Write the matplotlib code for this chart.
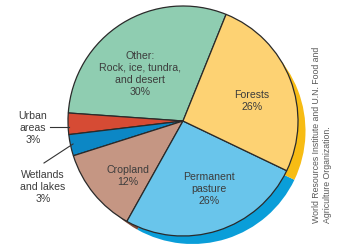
import matplotlib
matplotlib.use("Agg")
import matplotlib.pyplot as plt

# Data
categories = ["Other:\nRock, ice, tundra,\nand desert", "Urban\nareas", "Wetlands\nand lakes",
              "Cropland", "Permanent\npasture", "Forests"]
shares = [30, 3, 3, 12, 26, 26]
colors = ["#8FCDB1", "#D64B34", "#0C87C5", "#C59683", "#69C5EB", "#FDD273"]
shadow_colors = ["#5E9E82", "#9E2F1F", "#075E8C", "#7E4A38", "#0A9ED9", "#F7BC14"]
source = "World Resources Institute and U.N. Food and\nAgriculture Organization."

W, H = 364, 253
fig = plt.figure(figsize=(W / 100, H / 100), dpi=100)
ax = fig.add_axes([0, 0, 1, 1])
plt.rcParams['font.family'] = ['Liberation Sans', 'DejaVu Sans']

def py(y):
    return H - y

cx, cy, r = 183, py(122), 115
# shadow (3D rim)
ax.pie(shares, colors=shadow_colors, startangle=68, counterclock=True,
       center=(cx + 9.5, cy - 10), radius=r - 2, wedgeprops=dict(linewidth=0))
ax.pie(shares, colors=colors, startangle=68, counterclock=True,
       center=(cx, cy), radius=r,
       wedgeprops=dict(linewidth=0.9, edgecolor="#2a2a2a"))

tc = "#3c3c3c"
fs = 7.6
def lab(x, y, s, **kw):
    ax.text(x, py(y), s, ha="center", va="center", fontsize=fs, color=tc,
            linespacing=1.27, **kw)

lab(140, 74, f"{categories[0]}\n{shares[0]}%")
lab(252, 101, f"{categories[5]}\n{shares[5]}%")
lab(209, 189, f"{categories[4]}\n{shares[4]}%")
lab(128, 176, f"{categories[3]}\n{shares[3]}%")
lab(33, 128, f"{categories[1]}\n{shares[1]}%")
lab(43, 187, f"{categories[2]}\n{shares[2]}%")

ax.plot([50, 69], [py(128), py(128)], color="#333333", lw=0.8)
ax.plot([44, 73], [py(164), py(145)], color="#333333", lw=0.8)

ax.text(322, py(223), source, rotation=90, ha="center", va="bottom",
        fontsize=6.3, color="#5a5a5a", linespacing=1.3, multialignment="left")

ax.set_xlim(0, W)
ax.set_ylim(0, H)
ax.set_aspect("equal")
ax.axis("off")
fig.savefig("out.png", dpi=100)
